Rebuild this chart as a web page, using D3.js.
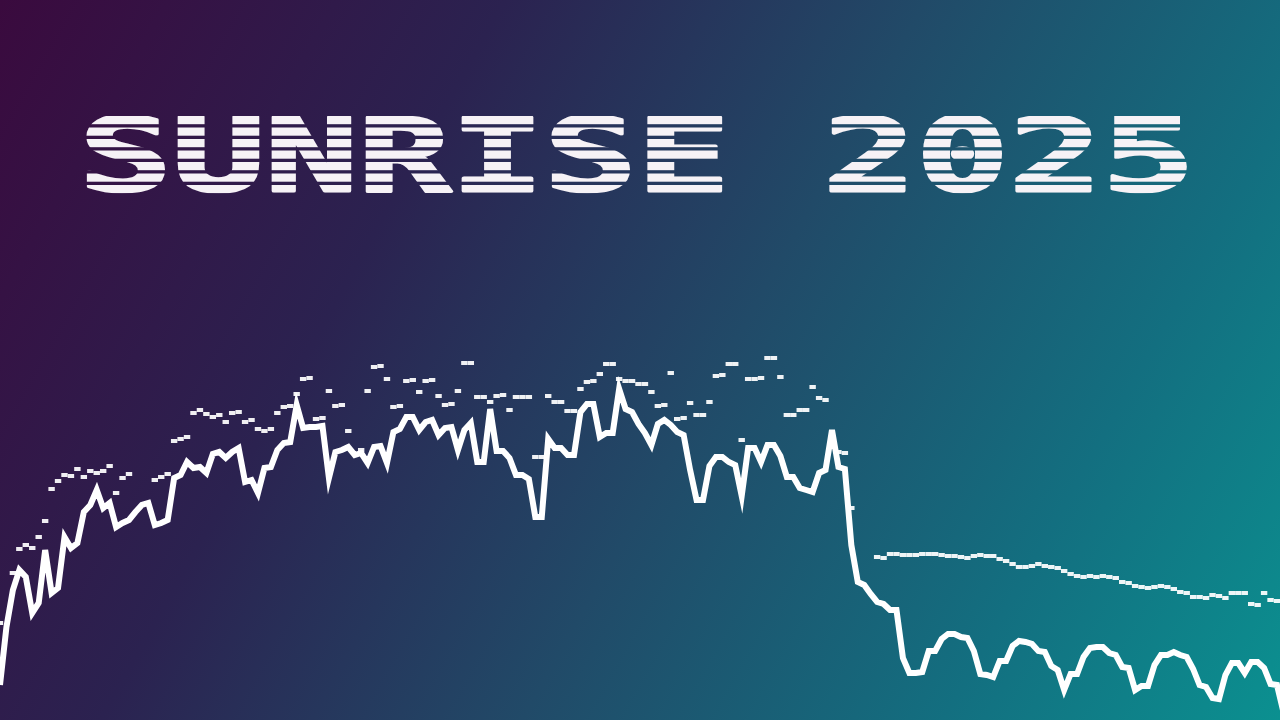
<!DOCTYPE html>
<html>
<head>
<meta charset="utf-8">
<script src="https://cdn.jsdelivr.net/npm/d3@7"></script>
<style>
  html, body { margin: 0; padding: 0; background: #1e3a5f; }
  svg { display: block; }
</style>
</head>
<body>
<svg id="chart" width="1280" height="720"></svg>
<script>
// ---- data (index = period, values in chart units) ----
const titleText = "SUNRISE 2025";

const lineValues = [
  35, 93, 130, 150, 143, 107, 117, 170, 127, 132,
  183, 172, 177, 208, 215, 230, 212, 217, 193, 197,
  200, 208, 215, 217, 195, 197, 200, 242, 245, 258,
  252, 253, 247, 266, 268, 262, 268, 272, 238, 240,
  227, 252, 253, 270, 277, 278, 315, 292, 293, 293,
  294, 242, 268, 270, 273, 265, 267, 257, 273, 274,
  257, 288, 291, 303, 303, 290, 298, 300, 285, 292,
  293, 270, 290, 297, 258, 258, 311, 269, 269, 262,
  245, 245, 241, 203, 203, 281, 272, 272, 265, 265,
  308, 316, 316, 283, 287, 287, 331, 311, 308, 296,
  287, 275, 296, 300, 295, 288, 285, 250, 220, 220,
  254, 263, 263, 258, 255, 224, 272, 272, 258, 275,
  275, 264, 243, 243, 232, 230, 228, 247, 250, 290,
  253, 251, 175, 138, 135, 126, 118, 116, 110, 110,
  62, 47, 47, 48, 69, 69, 81, 86, 86, 83,
  82, 69, 46, 45, 43, 59, 59, 74, 79, 78,
  76, 69, 68, 54, 50, 30, 46, 46, 63, 72,
  73, 73, 67, 65, 53, 52, 30, 34, 34, 55,
  65, 65, 68, 65, 63, 51, 35, 33, 22, 21,
  45, 57, 57, 47, 58, 58, 52, 36, 35, 8
];

const markValues = [
  97, null, 147, 171, 175, 172, 183, 199, 231, 239,
  245, 244, 251, 243, 249, 247, 249, 254, 227, 242,
  246, null, null, null, 240, 243, 246, 279, 281, 283,
  307, 310, 306, 303, 305, 298, 307, 308, 298, 300,
  291, 289, 291, 307, 313, 314, 326, 341, 342, 301,
  302, 329, 314, 315, 289, null, 270, 329, 353, 354,
  341, 313, 314, 339, 340, 328, 339, 340, 324, 315,
  316, 329, 357, 357, 323, 323, 318, 324, 325, 310,
  323, 323, 323, 263, 263, 324, 318, 318, 309, 309,
  331, 338, 339, 346, 356, 356, 341, 339, 339, 336,
  336, 328, 314, 315, 347, 301, 302, 317, 305, 305,
  318, 344, 345, 356, 356, 280, 341, 341, 342, 362,
  362, 343, 305, 305, 310, 310, 333, 322, 320, null,
  268, 267, 212, null, null, null, 163, 162, 166, 166,
  165, 165, 165, 166, 166, 166, 165, 164, 164, 163,
  162, 164, 165, 164, 164, 161, 159, 156, 153, 153,
  154, 156, 154, 153, 152, 149, 146, 144, 143, 144,
  143, 144, 143, 142, 138, 137, 134, 133, 132, 133,
  134, 133, 131, 128, 127, 123, 123, 122, 125, 124,
  122, 127, 127, 127, 116, 115, 127, 120, 119, null
];

// ---- drawing ----
const W = 1280, H = 720;
const svg = d3.select("#chart");
const defs = svg.append("defs");

const grad = defs.append("linearGradient")
  .attr("id", "bg")
  .attr("gradientUnits", "userSpaceOnUse")
  .attr("x1", 0).attr("y1", 0).attr("x2", W).attr("y2", H);
[["0", "#3a0a3e"], ["0.3", "#2b2250"], ["0.55", "#214a68"], ["0.8", "#136f80"], ["1", "#0b9090"]]
  .forEach(([o, c]) => grad.append("stop").attr("offset", o).attr("stop-color", c));

svg.append("rect").attr("width", W).attr("height", H).attr("fill", "url(#bg)");

// striped title mask
const mask = defs.append("mask").attr("id", "stripes")
  .attr("maskUnits", "userSpaceOnUse")
  .attr("x", 0).attr("y", 0).attr("width", W).attr("height", H);
const rowScale = d3.scaleLinear().domain([0, 6]).range([116, 185]);
d3.range(7).forEach(r => {
  mask.append("rect")
    .attr("x", 0).attr("y", rowScale(r))
    .attr("width", W).attr("height", 8.2)
    .attr("fill", "white");
});

svg.append("text")
  .attr("x", 79)
  .attr("y", 191)
  .attr("textLength", 1116)
  .attr("lengthAdjust", "spacingAndGlyphs")
  .attr("font-family", "'DejaVu Sans Mono', 'Liberation Mono', monospace")
  .attr("font-weight", "bold")
  .attr("font-size", 102)
  .attr("fill", "#f6f2f6")
  .attr("stroke", "#f6f2f6")
  .attr("stroke-width", 3)
  .attr("stroke-linejoin", "round")
  .attr("mask", "url(#stripes)")
  .text(titleText);

const x = d3.scaleLinear().domain([0, 198]).range([0, 1277]);
const y = d3.scaleLinear().domain([0, 400]).range([720, 320]);

const line = d3.line()
  .x((d, i) => x(i))
  .y(d => y(d));

svg.append("path")
  .datum(lineValues)
  .attr("d", line)
  .attr("fill", "none")
  .attr("stroke", "#ffffff")
  .attr("stroke-width", 6)
  .attr("stroke-linejoin", "miter")
  .attr("stroke-miterlimit", 6);

const marks = markValues.map((v, i) => ({ i, v })).filter(d => d.v !== null);
svg.append("g")
  .selectAll("rect")
  .data(marks)
  .join("rect")
  .attr("x", d => x(d.i) - 3.2)
  .attr("y", d => y(d.v) - 2)
  .attr("width", 6.4)
  .attr("height", 4)
  .attr("fill", "#ffffff")
  .attr("fill-opacity", 0.93);
</script>
</body>
</html>
